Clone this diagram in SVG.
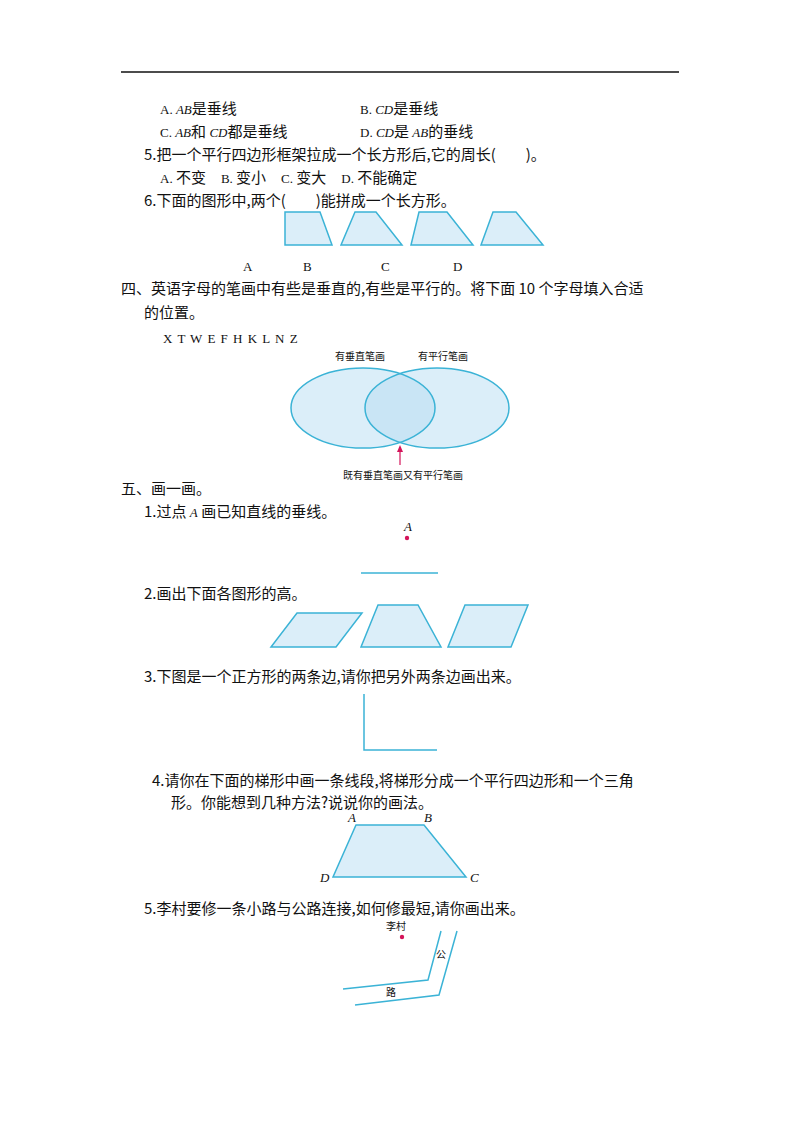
<svg xmlns="http://www.w3.org/2000/svg" width="800" height="1132" viewBox="0 0 800 1132">
<style>
text{font-family:"Noto Sans CJK SC","Noto Sans",sans-serif;font-size:15px;fill:#111}
.s{font-family:"Liberation Serif","Noto Sans CJK SC",serif;font-size:13px}
.i{font-family:"Liberation Serif",serif;font-style:italic;font-size:13px}
.sm{font-size:10px}
.f{fill:#dbeef9;stroke:#3bb3d6;stroke-width:1.5}
.l{fill:none;stroke:#3bb3d6;stroke-width:1.5}
</style>
<rect width="800" height="1132" fill="#fff"/>
<line x1="121" y1="72" x2="679" y2="72" stroke="#111" stroke-width="1.5"/>
<text x="160" y="114"><tspan class="s">A. </tspan><tspan class="i">AB</tspan>是垂线</text>
<text x="360" y="114"><tspan class="s">B. </tspan><tspan class="i">CD</tspan>是垂线</text>
<text x="160" y="137"><tspan class="s">C. </tspan><tspan class="i">AB</tspan>和 <tspan class="i">CD</tspan>都是垂线</text>
<text x="360" y="137"><tspan class="s">D. </tspan><tspan class="i">CD</tspan>是 <tspan class="i">AB</tspan>的垂线</text>
<text x="144" y="160">5.把一个平行四边形框架拉成一个长方形后,它的周长(　　)。</text>
<text x="160" y="183"><tspan class="s">A. </tspan>不变　<tspan class="s">B. </tspan>变小　<tspan class="s">C. </tspan>变大　<tspan class="s">D. </tspan>不能确定</text>
<text x="144" y="206">6.下面的图形中,两个(　　)能拼成一个长方形。</text>
<g id="shapes6">
<polygon class="f" points="285,212 320,212 332,245 285,245"/>
<polygon class="f" points="355,212 376,212 402,245 341,245"/>
<polygon class="f" points="419,212 447,212 473,245 411,245"/>
<polygon class="f" points="493,212 516,212 543,245 481,245"/>
</g>
<text class="s" x="243" y="271">A</text>
<text class="s" x="303" y="271">B</text>
<text class="s" x="381" y="271">C</text>
<text class="s" x="453" y="271">D</text>
<text x="121" y="294">四、英语字母的笔画中有些是垂直的,有些是平行的。将下面 10 个字母填入合适</text>
<text x="144" y="318">的位置。</text>
<text class="s" x="163" y="343" letter-spacing="1">X T W E F H K L N Z</text>
<g id="venn">
<clipPath id="c"><ellipse cx="363" cy="408" rx="72" ry="40"/></clipPath>
<ellipse cx="363" cy="408" rx="72" ry="40" fill="#dbeef9"/>
<ellipse cx="437" cy="408" rx="72" ry="40" fill="#dbeef9"/>
<ellipse cx="437" cy="408" rx="72" ry="40" fill="#c9e5f5" clip-path="url(#c)"/>
<ellipse cx="363" cy="408" rx="72" ry="40" class="l"/>
<ellipse cx="437" cy="408" rx="72" ry="40" class="l"/>
</g>
<text class="sm" x="335" y="360">有垂直笔画</text>
<text class="sm" x="418" y="360">有平行笔画</text>
<g id="connectors">
<line x1="400" y1="465" x2="400" y2="451" stroke="#d4145a" stroke-width="1.2"/>
<polygon points="400,445 397,452 403,452" fill="#d4145a"/>
</g>
<text class="sm" x="343" y="479">既有垂直笔画又有平行笔画</text>
<text x="121" y="494">五、画一画。</text>
<text x="144" y="517">1.过点 <tspan class="i">A</tspan> 画已知直线的垂线。</text>
<text class="i" x="404" y="531">A</text>
<circle cx="407" cy="538" r="2.2" fill="#d4145a"/>
<line x1="361" y1="573" x2="438" y2="573" class="l" stroke-width="1.2"/>
<text x="144" y="599">2.画出下面各图形的高。</text>
<g id="shapes2">
<polygon class="f" points="297,613 362,613 336,647 271,647"/>
<polygon class="f" points="378,605 418,605 441,647 361,647"/>
<polygon class="f" points="465,605 528,605 511,647 448,647"/>
</g>
<text x="144" y="682">3.下图是一个正方形的两条边,请你把另外两条边画出来。</text>
<polyline class="l" points="364,694 364,750 437,750"/>
<text x="152" y="786">4.请你在下面的梯形中画一条线段,将梯形分成一个平行四边形和一个三角</text>
<text x="171" y="808">形。你能想到几种方法?说说你的画法。</text>
<polygon class="f" points="356,825 424,825 466,877 333,877"/>
<text class="i" x="348" y="822">A</text>
<text class="i" x="424" y="822">B</text>
<text class="i" x="320" y="882">D</text>
<text class="i" x="470" y="882">C</text>
<text x="144" y="914">5.李村要修一条小路与公路连接,如何修最短,请你画出来。</text>
<text class="sm" x="386" y="930">李村</text>
<circle cx="402" cy="937" r="2.2" fill="#d4145a"/>
<g id="road">
<polyline class="l" points="441,931 428,980 343,989"/>
<polyline class="l" points="457,931 439,995 355,1005"/>
</g>
<text class="sm" x="436" y="958">公</text>
<text class="sm" x="386" y="996">路</text>
</svg>
